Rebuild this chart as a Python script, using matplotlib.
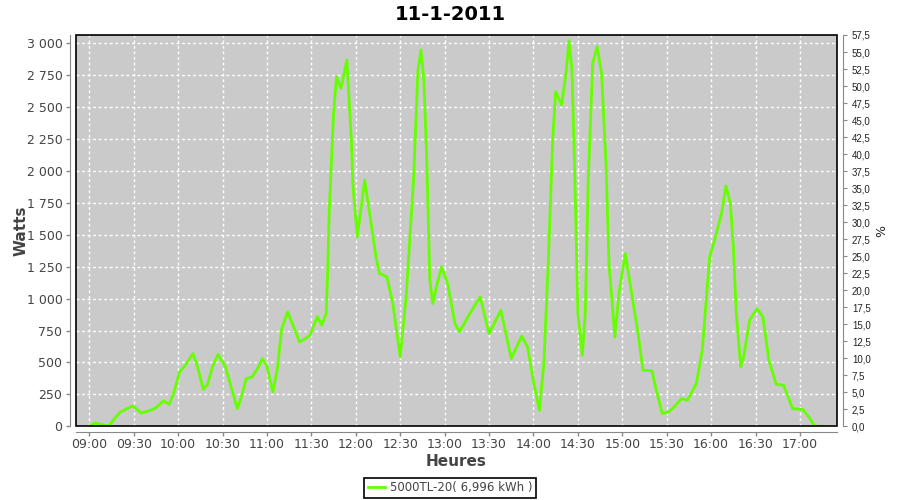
import matplotlib
matplotlib.use("Agg")
import matplotlib.pyplot as plt
from matplotlib.patches import Rectangle
from matplotlib.ticker import FuncFormatter, MultipleLocator
import numpy as np

# Données
heures = ["09:00", "09:04", "09:08", "09:13", "09:17", "09:21", "09:25", "09:29", "09:32", "09:35",
          "09:40", "09:44", "09:47", "09:50", "09:54", "09:57", "10:01", "10:05", "10:10", "10:13",
          "10:17", "10:20", "10:23", "10:27", "10:32", "10:36", "10:40", "10:43", "10:46", "10:50",
          "10:54", "10:57", "11:00", "11:04", "11:07", "11:10", "11:14", "11:18", "11:22", "11:26",
          "11:29", "11:34", "11:37", "11:40", "11:41", "11:42", "11:45", "11:47", "11:50", "11:54",
          "11:57", "11:58", "12:01", "12:04", "12:06", "12:09", "12:14", "12:16", "12:21", "12:25",
          "12:30", "12:34", "12:39", "12:42", "12:44", "12:46", "12:48", "12:50", "12:52", "12:55",
          "12:58", "13:02", "13:07", "13:10", "13:17", "13:24", "13:30", "13:38", "13:45", "13:52",
          "13:56", "14:00", "14:04", "14:07", "14:10", "14:13", "14:15", "14:19", "14:22", "14:24",
          "14:26", "14:28", "14:30", "14:33", "14:35", "14:37", "14:40", "14:43", "14:46", "14:49",
          "14:51", "14:55", "14:58", "15:02", "15:06", "15:11", "15:14", "15:20", "15:23", "15:27",
          "15:31", "15:35", "15:40", "15:44", "15:50", "15:54", "15:59", "16:03", "16:07", "16:10",
          "16:13", "16:15", "16:17", "16:20", "16:22", "16:26", "16:31", "16:35", "16:39", "16:44",
          "16:49", "16:55", "17:02", "17:06", "17:10", "17:15"]
watts = [0, 26, 15, 0, 60, 112, 135, 159, 135, 104,
         120, 139, 165, 199, 172, 260, 426, 480, 570, 470,
         290, 330, 460, 564, 465, 300, 139, 240, 374, 386,
         460, 530, 470, 269, 450, 766, 896, 780, 661, 687,
         713, 860, 792, 883, 1200, 1667, 2451, 2739, 2647, 2870,
         2242, 1903, 1484, 1746, 1929, 1693, 1301, 1197, 1171, 962,
         543, 1014, 1929, 2791, 2948, 2713, 2059, 1145, 962, 1119,
         1249, 1119, 805, 739, 883, 1014, 727, 909, 530, 706,
         622, 350, 125, 491, 1276, 2242, 2621, 2517, 2765, 3020,
         2791, 1929, 883, 557, 883, 1929, 2844, 2974, 2765, 2059,
         1276, 700, 1066, 1354, 1066, 700, 439, 434, 282, 100,
         112, 151, 217, 204, 335, 596, 1327, 1484, 1667, 1882,
         1746, 1406, 883, 465, 543, 831, 922, 857, 517, 329,
         321, 139, 131, 73, 0, 0]

titre = "11-1-2011"
serie = "5000TL-20( 6,996 kWh )"
ticks_x = ["09:00", "09:30", "10:00", "10:30", "11:00", "11:30", "12:00", "12:30",
           "13:00", "13:30", "14:00", "14:30", "15:00", "15:30", "16:00", "16:30", "17:00"]


def en_heures(s):
    h, m = s.split(":")
    return int(h) + int(m) / 60


x = np.array([en_heures(s) for s in heures])
y = np.array(watts)

gris_fond = "#cacaca"
vert = "#66ff00"
gris_txt = "#444444"
gris_axe = "#888888"

fig = plt.figure(figsize=(9, 5), dpi=100)
ax = fig.add_axes([0.0841, 0.1474, 0.9303 - 0.0841, 0.93 - 0.1474])
ax.set_facecolor(gris_fond)

ax.plot(x, y, color=vert, lw=2, label=serie, zorder=3)

ax.set_xlim(8.847, 17.42)
ax.set_ylim(0, 3065)

ax.set_xticks([en_heures(s) for s in ticks_x])
ax.set_xticklabels(ticks_x)
ax.yaxis.set_major_locator(MultipleLocator(250))
ax.yaxis.set_major_formatter(FuncFormatter(lambda v, p: f"{int(v):,}".replace(",", " ")))

ax.grid(True, color="white", ls=(0, (2, 2)), lw=1)
ax.set_axisbelow(True)

for s in ["top", "right"]:
    ax.spines[s].set_visible(False)
for s in ["left", "bottom"]:
    ax.spines[s].set_position(("outward", 4))
    ax.spines[s].set_color(gris_axe)
ax.tick_params(axis="both", colors=gris_axe, labelcolor=gris_txt, labelsize=9, length=3, width=1)
ax.tick_params(axis="x", pad=1.5)
ax.tick_params(axis="y", pad=2.5)

ax.add_patch(Rectangle((0, 0), 1, 1, transform=ax.transAxes, fill=False,
                       ec="black", lw=1.2, clip_on=False, zorder=5))

ax.set_xlabel("Heures", fontsize=11, fontweight="bold", color=gris_txt)
ax.set_ylabel("Watts", fontsize=11, fontweight="bold", color=gris_txt)
ax.xaxis.set_label_coords(0.5, -0.07)
ax.yaxis.set_label_coords(-0.062, 0.5)

# Axe de droite en %
ax2 = ax.twinx()
ax2.set_ylim(0, 57.5)
ax2.yaxis.set_major_locator(MultipleLocator(2.5))
ax2.yaxis.set_major_formatter(FuncFormatter(lambda v, p: f"{v:.1f}".replace(".", ",")))
for s in ["top", "left", "bottom"]:
    ax2.spines[s].set_visible(False)
ax2.spines["right"].set_position(("outward", 4))
ax2.spines["right"].set_color(gris_axe)
ax2.tick_params(axis="y", colors=gris_axe, labelcolor="#222222", length=3, labelsize=7)
for lab in ax2.get_yticklabels():
    lab.set_fontfamily("Liberation Sans")
ax2.set_ylabel("%", fontsize=9, color="#222222")
ax2.yaxis.set_label_coords(1.05, 0.5)

fig.suptitle(titre, fontsize=14, fontweight="bold", x=0.5, y=0.99)

leg = fig.legend(loc="lower center", bbox_to_anchor=(0.5, 0.004), fontsize=8.5,
                 fancybox=False, edgecolor="black", framealpha=1, handlelength=1.5,
                 borderpad=0.3, handletextpad=0.4, borderaxespad=0)
leg.get_frame().set_linewidth(1.2)
for t in leg.get_texts():
    t.set_color(gris_txt)

fig.savefig("out.png", dpi=100)
